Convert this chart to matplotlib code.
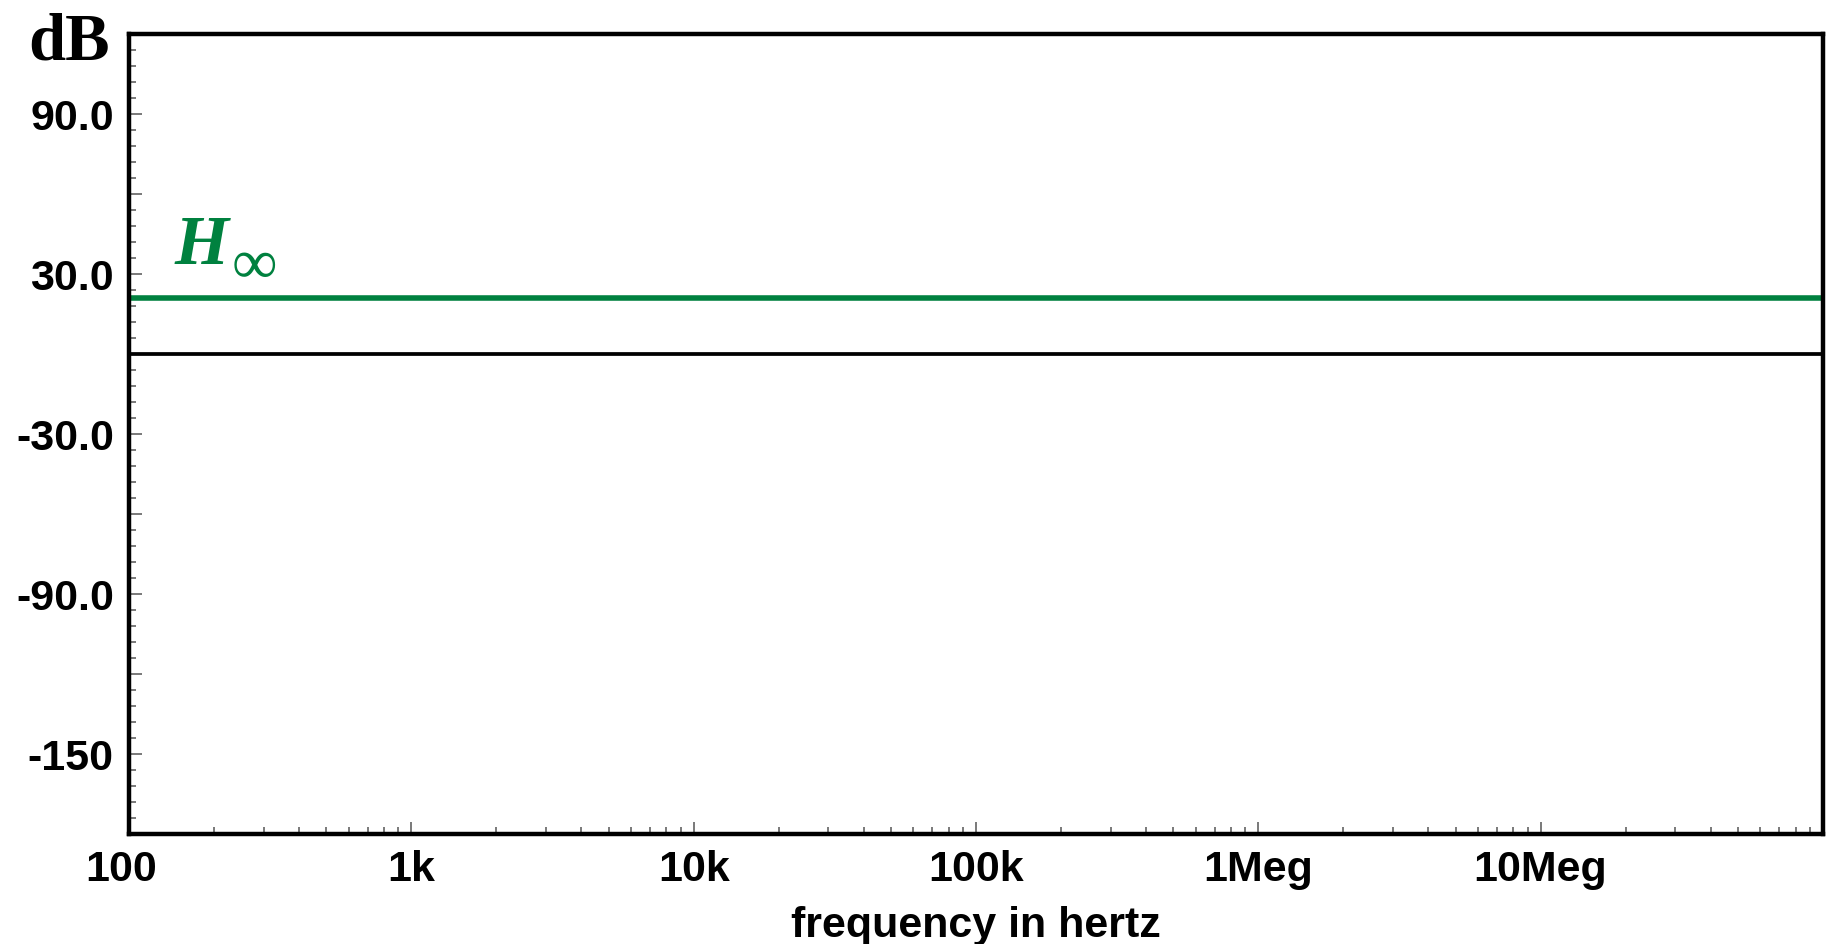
import numpy as np
import matplotlib
matplotlib.use("Agg")
import matplotlib.pyplot as plt
from matplotlib.ticker import MultipleLocator, FixedLocator, FixedFormatter, LogLocator, NullFormatter
import matplotlib.transforms as mtransforms

# data
freq = [100, 1e8]
h_inf_db = [21.0, 21.0]
zero_db = [0.0, 0.0]

x_ticks = [1e2, 1e3, 1e4, 1e5, 1e6, 1e7]
x_labels = ["100", "1k", "10k", "100k", "1Meg", "10Meg"]
y_ticks = [-180, -150, -120, -90, -60, -30, 0, 30, 60, 90, 120]
y_labels = ["", "-150", "", "-90.0", "", "-30.0", "", "30.0", "", "90.0", ""]

green = "#00813f"
plt.rcParams["font.family"] = ["Liberation Sans", "DejaVu Sans"]

fig = plt.figure(figsize=(18.33, 9.45), dpi=100)
ax = fig.add_axes([0.0704, 0.1164, 0.9241, 0.8466])

ax.plot(freq, h_inf_db, color=green, lw=4.0, solid_capstyle="butt")
ax.plot(freq, zero_db, color="black", lw=2.7, solid_capstyle="butt")

ax.set_xscale("log")
ax.set_xlim(100, 1e8)
ax.set_ylim(-180, 120)

ax.xaxis.set_major_locator(FixedLocator(x_ticks))
ax.xaxis.set_major_formatter(FixedFormatter(x_labels))
ax.xaxis.set_minor_locator(LogLocator(base=10, subs=np.arange(2, 10)))
ax.xaxis.set_minor_formatter(NullFormatter())

ax.yaxis.set_major_locator(FixedLocator(y_ticks))
ax.yaxis.set_major_formatter(FixedFormatter(y_labels))
ax.yaxis.set_minor_locator(MultipleLocator(6))

ax.tick_params(which="both", direction="in", color="#555555", width=1.1,
               top=False, right=False)
ax.tick_params(which="major", length=9, pad=11, labelsize=31)
ax.tick_params(which="minor", length=5)
for lab in ax.get_xticklabels() + ax.get_yticklabels():
    lab.set_fontweight("bold")

# the "100" label sits a little left of its tick
off = mtransforms.ScaledTranslation(-8 / 100, 0, fig.dpi_scale_trans)
first = ax.get_xticklabels()[0]
first.set_transform(first.get_transform() + off)

for s in ax.spines.values():
    s.set_linewidth(3.2)
    s.set_color("black")

ax.set_xlabel("frequency in hertz", fontsize=31, fontweight="bold", labelpad=11)

fig.text(28 / 1833, 1 - 59 / 945, "dB", fontsize=48, fontweight="bold",
         family=["Liberation Serif", "DejaVu Serif"], va="baseline", ha="left")

ax.text(145, 34, "H", color=green, fontsize=50, fontweight="bold", style="italic",
        family=["Liberation Serif", "DejaVu Serif"], va="baseline", ha="left")
ax.text(230, 27.0, "\u221e", color=green, fontsize=46,
        family=["Liberation Serif", "DejaVu Serif"], va="baseline", ha="left")

fig.savefig("out.png", dpi=100)
